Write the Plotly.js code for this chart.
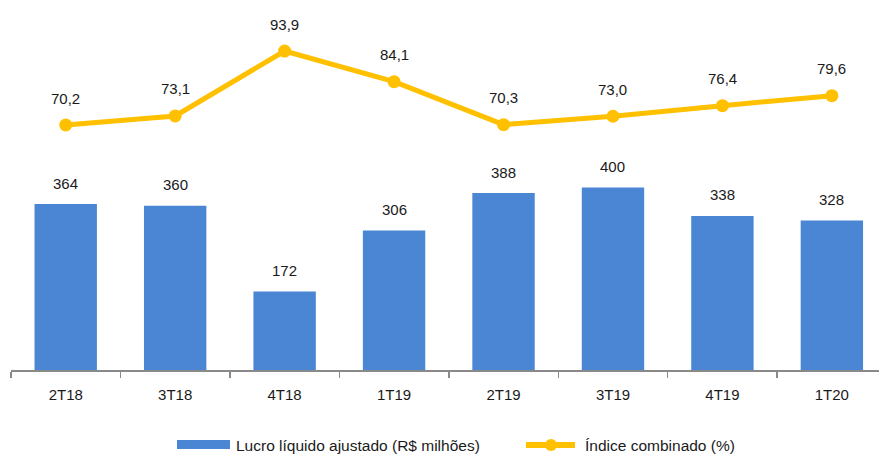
<!DOCTYPE html>
<html>
<head>
<meta charset="utf-8">
<script src="https://cdn.plot.ly/plotly-3.0.1.min.js"></script>
<style>html,body{margin:0;padding:0;background:#fff}#chart{width:879px;height:457px}</style>
</head>
<body>
<div id="chart"></div>
<script>
var categories = ["2T18","3T18","4T18","1T19","2T19","3T19","4T19","1T20"];
var lucro = [364, 360, 172, 306, 388, 400, 338, 328];
var indice = [70.2, 73.1, 93.9, 84.1, 70.3, 73.0, 76.4, 79.6];
var lucroName = "Lucro líquido ajustado (R$ milhões)";
var indiceName = "Índice combinado (%)";

var FONT = "Liberation Sans, Arial, sans-serif";
var BLUE = "#4A86D3";
var YELLOW = "#FFC000";
var TXT = "#1a1a1a";

function fmt(v){ return v.toFixed(1).replace(".", ","); }

var traces = [
  {type:"bar", x:categories, y:lucro, name:lucroName, marker:{color:BLUE}, width:0.57, yaxis:"y", showlegend:false, hoverinfo:"skip"},
  {type:"scatter", mode:"lines+markers", x:categories, y:indice, name:indiceName, yaxis:"y2",
   line:{color:YELLOW, width:5}, marker:{color:YELLOW, size:13}, showlegend:false, hoverinfo:"skip"}
];

var annotations = [];
categories.forEach(function(c,i){
  annotations.push({x:c, y:lucro[i], xref:"x", yref:"y", text:String(lucro[i]), showarrow:false,
    yanchor:"middle", yshift:21, font:{family:FONT, size:15, color:TXT}});
  annotations.push({x:c, y:indice[i], xref:"x", yref:"y2", text:fmt(indice[i]), showarrow:false,
    yanchor:"middle", yshift:27, font:{family:FONT, size:15, color:TXT}});
});

// custom legend (paper coords: x=(px-11)/868, y=(370-py)/360)
function px(p){ return (p-11)/868; }
function py(p){ return (370-p)/360; }
annotations.push({xref:"paper", yref:"paper", x:px(236), y:py(445), xanchor:"left", yanchor:"middle", xshift:-2,
  text:lucroName, showarrow:false, font:{family:FONT, size:15.5, color:TXT}});
annotations.push({xref:"paper", yref:"paper", x:px(585), y:py(445), xanchor:"left", yanchor:"middle", xshift:-2,
  text:indiceName, showarrow:false, font:{family:FONT, size:15.5, color:TXT}});

var shapes = [
  {type:"rect", xref:"paper", yref:"paper", x0:px(177), x1:px(230), y0:py(449), y1:py(440), fillcolor:BLUE, line:{width:0}},
  {type:"line", xref:"paper", yref:"paper", x0:px(526), x1:px(575), y0:py(445), y1:py(445), line:{color:YELLOW, width:6}},
  {type:"circle", xref:"paper", yref:"paper", xsizemode:"pixel", ysizemode:"pixel", xanchor:px(551), yanchor:py(445),
   x0:-6, x1:6, y0:-6, y1:6, fillcolor:YELLOW, line:{width:0}}
];

var layout = {
  width:879, height:457,
  margin:{l:11, r:0, t:10, b:87},
  paper_bgcolor:"#fff", plot_bgcolor:"#fff",
  font:{family:FONT, size:15, color:TXT},
  showlegend:false,
  xaxis:{type:"category", range:[-0.5, 7.4306], showline:true, linecolor:"#898989", linewidth:1.5,
    ticks:"outside", tickson:"boundaries", ticklen:6, tickcolor:"#898989", tickwidth:1.5,
    showgrid:false, zeroline:false, tickfont:{family:FONT, size:15, color:TXT}, ticklabelstandoff:10, fixedrange:true},
  yaxis:{range:[0, 789.5], visible:false, showgrid:false, zeroline:false, fixedrange:true},
  yaxis2:{range:[-8.33, 107.06], overlaying:"y", side:"right", visible:false, showgrid:false, zeroline:false, fixedrange:true},
  annotations:annotations,
  shapes:shapes
};

Plotly.newPlot("chart", traces, layout, {displayModeBar:false, staticPlot:true});
</script>
</body>
</html>
